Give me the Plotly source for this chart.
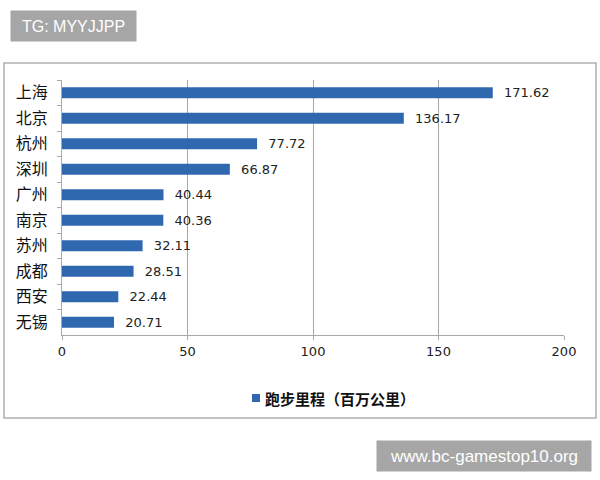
import plotly.graph_objects as go

cities = ["上海", "北京", "杭州", "深圳", "广州", "南京", "苏州", "成都", "西安", "无锡"]
values = [171.62, 136.17, 77.72, 66.87, 40.44, 40.36, 32.11, 28.51, 22.44, 20.71]
series_name = "跑步里程（百万公里）"
x_ticks = [0, 50, 100, 150, 200]

W, H = 600, 480
L, R, T, B = 62, 36, 80, 145
pw, ph = W - L - R, H - T - B

def px(x):
    return (x - L) / pw

def py(y):
    return (H - B - y) / ph

font = "Noto Sans CJK SC, Noto Sans, sans-serif"

fig = go.Figure()
fig.add_trace(go.Bar(
    y=cities, x=values, orientation="h", name=series_name,
    marker=dict(color="#3068B0", line=dict(width=0)),
    width=0.44,
    text=["\u00a0\u00a0" + f"{v:.2f}" for v in values], textposition="outside",
    constraintext="none",
    textfont=dict(size=13, color="#222", family="DejaVu Sans, sans-serif"),
    cliponaxis=False, showlegend=False,
))

fig.update_layout(
    width=W, height=H,
    margin=dict(l=L, r=R, t=T, b=B, pad=0),
    paper_bgcolor="white", plot_bgcolor="white",
    font=dict(family=font, color="#111"),
    showlegend=False,
    xaxis=dict(range=[0, 200], tickvals=x_ticks, showgrid=True, gridcolor="#A8A8A8", gridwidth=1,
               zeroline=False, showline=True, linecolor="#A8A8A8", ticks="outside", ticklen=4,
               tickcolor="#A8A8A8", tickfont=dict(size=13, color="#222", family="DejaVu Sans, sans-serif"),
               fixedrange=True),
    yaxis=dict(autorange="reversed", showline=True, linecolor="#A8A8A8", ticks="outside",
               tickson="boundaries", ticklen=4, tickcolor="#A8A8A8", showgrid=False,
               tickfont=dict(size=16, color="#111", family=font), ticklabelstandoff=10),
    bargap=0.5,
)

# outer chart frame
fig.add_shape(type="rect", xref="paper", yref="paper",
              x0=px(4), x1=px(596), y0=py(418), y1=py(63),
              line=dict(color="#B0B0B0", width=1.5), fillcolor="rgba(0,0,0,0)", layer="below")

# legend (square + label)
fig.add_shape(type="rect", xref="paper", yref="paper",
              x0=px(252), x1=px(260), y0=py(402), y1=py(394),
              line=dict(width=0), fillcolor="#3068B0")
fig.add_annotation(xref="paper", yref="paper", x=px(263), y=py(398), xanchor="left", yanchor="middle",
                   text="<b>" + series_name + "</b>", showarrow=False,
                   font=dict(size=15, color="#111", family=font))

# watermark boxes
fig.add_annotation(xref="paper", yref="paper", x=px(10), y=py(10), xanchor="left", yanchor="top",
                   text="TG: MYYJJPP", showarrow=False, width=125, height=30, borderpad=0,
                   bgcolor="#A6A6A6", font=dict(size=16, color="white", family="Liberation Sans, Arial, sans-serif"),
                   align="center", valign="middle")
fig.add_annotation(xref="paper", yref="paper", x=px(376), y=py(440), xanchor="left", yanchor="top",
                   text="www.bc-gamestop10.org", showarrow=False, width=214, height=30, borderpad=0,
                   bgcolor="#A6A6A6", font=dict(size=17, color="white", family="Liberation Sans, Arial, sans-serif"),
                   align="center", valign="middle")

fig.write_html("out.html")
